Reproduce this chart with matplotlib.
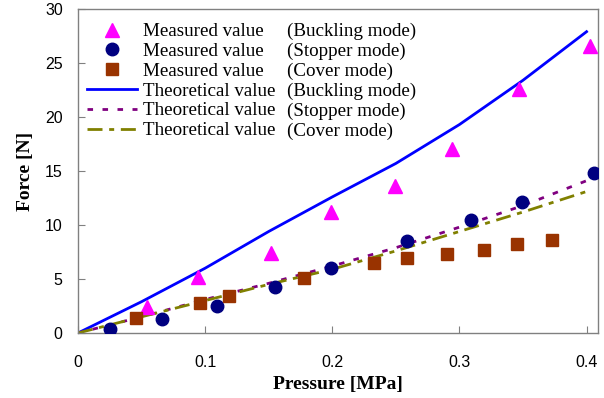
import matplotlib
matplotlib.use("Agg")
import matplotlib.pyplot as plt
from matplotlib.lines import Line2D

# measured values
buckling_p = [0.054, 0.094, 0.152, 0.199, 0.249, 0.294, 0.347, 0.403]
buckling_f = [2.45, 5.2, 7.4, 11.2, 13.65, 17.0, 22.6, 26.6]

stopper_p = [0.025, 0.066, 0.109, 0.155, 0.199, 0.259, 0.309, 0.349, 0.406]
stopper_f = [0.35, 1.3, 2.5, 4.3, 6.05, 8.55, 10.45, 12.15, 14.8]

cover_p = [0.046, 0.096, 0.119, 0.178, 0.233, 0.259, 0.290, 0.319, 0.345, 0.373]
cover_f = [1.42, 2.78, 3.45, 5.1, 6.45, 6.9, 7.32, 7.7, 8.25, 8.6]

# theoretical curves
theory_p = [0, 0.05, 0.1, 0.15, 0.2, 0.25, 0.3, 0.35, 0.4]
buckling_theory = [0, 2.9, 6.0, 9.4, 12.6, 15.7, 19.3, 23.4, 27.9]
stopper_theory = [0, 1.5, 3.1, 4.6, 6.2, 7.9, 9.8, 11.8, 14.1]
cover_theory = [0, 1.5, 3.0, 4.5, 5.9, 7.6, 9.4, 11.2, 13.1]

x_ticks = [0, 0.1, 0.2, 0.3, 0.4]
x_tick_labels = ["0", "0.1", "0.2", "0.3", "0.4"]
y_ticks = [0, 5, 10, 15, 20, 25, 30]

modes = ["(Buckling mode)", "(Stopper mode)", "(Cover mode)"]

SERIF = "Liberation Serif"
SANS = "Liberation Sans"

fig = plt.figure(figsize=(6.04, 3.98), dpi=100)
ax = fig.add_axes([78 / 604, 1 - 333 / 398, 520 / 604, 324 / 398])

l_buck, = ax.plot(theory_p, buckling_theory, color="#0000FF", lw=2, zorder=2)
l_stop, = ax.plot(theory_p, stopper_theory, color="#800080", lw=2,
                  dashes=(2, 3.4), zorder=2)
l_cov, = ax.plot(theory_p, cover_theory, color="#808000", lw=2,
                 dashes=(5.4, 2.4, 1.8, 2.4), zorder=2)

m_buck, = ax.plot(buckling_p, buckling_f, ls="none", marker="^", ms=10,
                  color="#FF00FF", zorder=3)
m_stop, = ax.plot(stopper_p, stopper_f, ls="none", marker="o", ms=9,
                  color="#000080", zorder=3)
m_cov, = ax.plot(cover_p, cover_f, ls="none", marker="s", ms=8.3,
                 color="#993300", zorder=3)

ax.set_xlim(0, 0.409)
ax.set_ylim(0, 30)
ax.set_xticks(x_ticks)
ax.set_xticklabels(x_tick_labels)
ax.set_yticks(y_ticks)
ax.tick_params(axis="both", direction="in", length=5, color="#808080",
               labelsize=11.5, labelcolor="black")
ax.tick_params(axis="x", pad=16)
ax.tick_params(axis="y", pad=11)
for lab in ax.get_xticklabels() + ax.get_yticklabels():
    lab.set_family(SANS)
for s in ax.spines.values():
    s.set_color("#808080")
    s.set_linewidth(1.0)

ax.set_xlabel("Pressure [MPa]", family=SERIF, fontweight="bold", fontsize=14, labelpad=4)
ax.set_ylabel("Force [N]", family=SERIF, fontweight="bold", fontsize=14, labelpad=8)

handles = [m_buck, m_stop, m_cov, l_buck, l_stop, l_cov]
labels = ["Measured value"] * 3 + ["Theoretical value"] * 3
leg_kw = dict(loc="upper left", frameon=False, prop={"family": SERIF, "size": 13.7},
              labelspacing=0.13, borderpad=0, borderaxespad=0)
leg1 = ax.legend(handles, labels, bbox_to_anchor=(0.018, 0.957),
                 handlelength=2.6, handletextpad=0.3, **leg_kw)
ax.add_artist(leg1)

blank = [Line2D([], [], ls="none") for _ in range(6)]
leg2 = ax.legend(blank, modes + modes, bbox_to_anchor=(0.402, 0.957),
                 handlelength=0, handletextpad=0, **leg_kw)

fig.savefig("out.png", dpi=100)
